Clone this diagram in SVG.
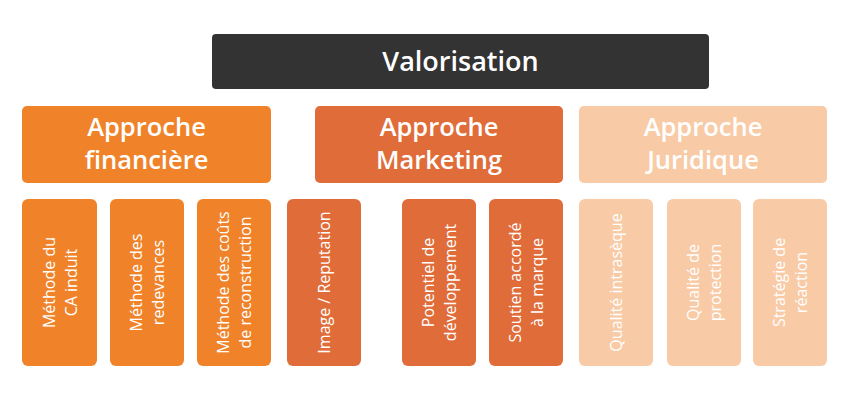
<svg xmlns="http://www.w3.org/2000/svg" width="850" height="400" viewBox="0 0 850 400">
<style>
.title{font-family:"Open Sans","Liberation Sans",sans-serif;font-weight:600;fill:#ffffff;text-anchor:middle}
.big{font-size:27px}
.head{font-size:25.5px}
.leaf{font-family:"Open Sans","Liberation Sans",sans-serif;font-size:16px;fill:#ffffff;text-anchor:middle;dominant-baseline:central}
.dark{fill:#333333}
.fin{fill:#F0832A}
.mkt{fill:#E06C39}
.jur{fill:#F8CBA6}
</style>
<rect width="850" height="400" fill="#ffffff"/>
<g id="valorisation">
<rect class="dark" x="212" y="34" width="497" height="55" rx="4"/>
<text class="title big" x="460.5" y="71">Valorisation</text>
</g>
<g id="approche-financiere">
<rect class="fin" x="22" y="106" width="249" height="77" rx="5"/>
<text class="title head" x="146.5" y="136">Approche</text>
<text class="title head" x="146.5" y="169">financière</text>
</g>
<g id="approche-marketing">
<rect class="mkt" x="315" y="106" width="248" height="77" rx="5"/>
<text class="title head" x="439" y="136">Approche</text>
<text class="title head" x="439" y="169">Marketing</text>
</g>
<g id="approche-juridique">
<rect class="jur" x="579" y="106" width="248" height="77" rx="5"/>
<text class="title head" x="703" y="136">Approche</text>
<text class="title head" x="703" y="169">Juridique</text>
</g>
<g id="methode-ca">
<rect class="fin" x="22" y="199" width="75" height="167" rx="6"/>
<text class="leaf" transform="translate(59.5,282.5) rotate(-90)"><tspan x="0" y="-11">Méthode du</tspan><tspan x="0" y="11">CA induit</tspan></text>
</g>
<g id="methode-redevances">
<rect class="fin" x="110" y="199" width="74" height="167" rx="6"/>
<text class="leaf" transform="translate(147,282.5) rotate(-90)"><tspan x="0" y="-11">Méthode des</tspan><tspan x="0" y="11">redevances</tspan></text>
</g>
<g id="methode-couts">
<rect class="fin" x="197" y="199" width="74" height="167" rx="6"/>
<text class="leaf" transform="translate(234,282.5) rotate(-90)"><tspan x="0" y="-11">Méthode des coûts</tspan><tspan x="0" y="11">de reconstruction</tspan></text>
</g>
<g id="image-reputation">
<rect class="mkt" x="287" y="199" width="74" height="167" rx="6"/>
<text class="leaf" transform="translate(324,282.5) rotate(-90)"><tspan x="0" y="0">Image / Reputation</tspan></text>
</g>
<g id="potentiel">
<rect class="mkt" x="402" y="199" width="74" height="167" rx="6"/>
<text class="leaf" transform="translate(439,282.5) rotate(-90)"><tspan x="0" y="-11">Potentiel de</tspan><tspan x="0" y="11">développement</tspan></text>
</g>
<g id="soutien">
<rect class="mkt" x="489" y="199" width="74" height="167" rx="6"/>
<text class="leaf" transform="translate(526,282.5) rotate(-90)"><tspan x="0" y="-11">Soutien accordé</tspan><tspan x="0" y="11">à la marque</tspan></text>
</g>
<g id="qualite-intraseque">
<rect class="jur" x="579" y="199" width="74" height="167" rx="6"/>
<text class="leaf" transform="translate(616,282.5) rotate(-90)"><tspan x="0" y="0">Qualité intrasèque</tspan></text>
</g>
<g id="qualite-protection">
<rect class="jur" x="667" y="199" width="74" height="167" rx="6"/>
<text class="leaf" transform="translate(704,282.5) rotate(-90)"><tspan x="0" y="-11">Qualité de</tspan><tspan x="0" y="11">protection</tspan></text>
</g>
<g id="strategie-reaction">
<rect class="jur" x="753" y="199" width="74" height="167" rx="6"/>
<text class="leaf" transform="translate(790,282.5) rotate(-90)"><tspan x="0" y="-11">Stratégie de</tspan><tspan x="0" y="11">réaction</tspan></text>
</g>
<g id="connectors"></g>
</svg>
